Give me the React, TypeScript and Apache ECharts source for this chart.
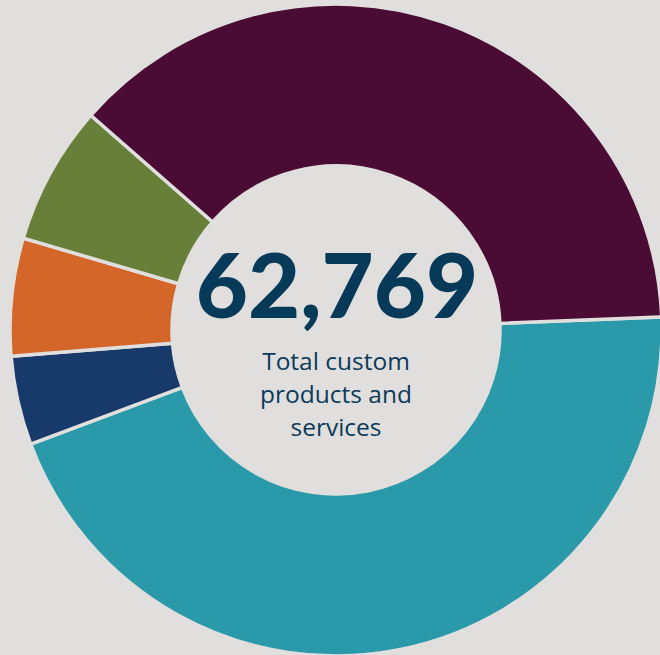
import React, { useEffect, useRef } from "react";
import * as echarts from "echarts";

const categories = ["Teal segment", "Navy segment", "Orange segment", "Green segment", "Maroon segment"];
const values = [28210, 2770, 3660, 4330, 23799];
const colors = ["#2a9aab", "#173a6b", "#d4662a", "#677f39", "#4a0c34"];
const totalLabel = "62,769";
const subtitleLines = ["Total custom", "products and", "services"];

export default function App() {
  const ref = useRef<HTMLDivElement>(null);
  useEffect(() => {
    if (!ref.current) return;
    const chart = echarts.init(ref.current, undefined, { renderer: "svg" });
    const bg = "#e0dfdd";
    chart.setOption({
      animation: false,
      backgroundColor: bg,
      series: [
        {
          type: "pie",
          center: [336, 330],
          radius: [164, 326],
          startAngle: 2.3,
          clockwise: true,
          label: { show: false },
          labelLine: { show: false },
          emphasis: { disabled: true },
          itemStyle: { borderColor: bg, borderWidth: 3.5 },
          data: categories.map((name, i) => ({
            name,
            value: values[i],
            itemStyle: { color: colors[i] },
          })),
        },
      ],
      graphic: [
        {
          type: "text",
          x: 337,
          y: 283,
          style: {
            text: totalLabel,
            fill: "#063a58",
            font: "900 90px Lato",
            align: "center",
            verticalAlign: "middle",
          },
        },
        ...subtitleLines.map((t, i) => ({
          type: "text",
          x: 336,
          y: [360, 393, 426][i],
          style: {
            text: t,
            fill: "#0c3a5a",
            font: "400 24.5px 'Open Sans'",
            align: "center",
            verticalAlign: "middle",
          },
        })),
      ],
    });
    return () => chart.dispose();
  }, []);
  return (
    <div
      ref={ref}
      style={{ position: "fixed", left: 0, top: 0, width: 660, height: 655 }}
    />
  );
}
